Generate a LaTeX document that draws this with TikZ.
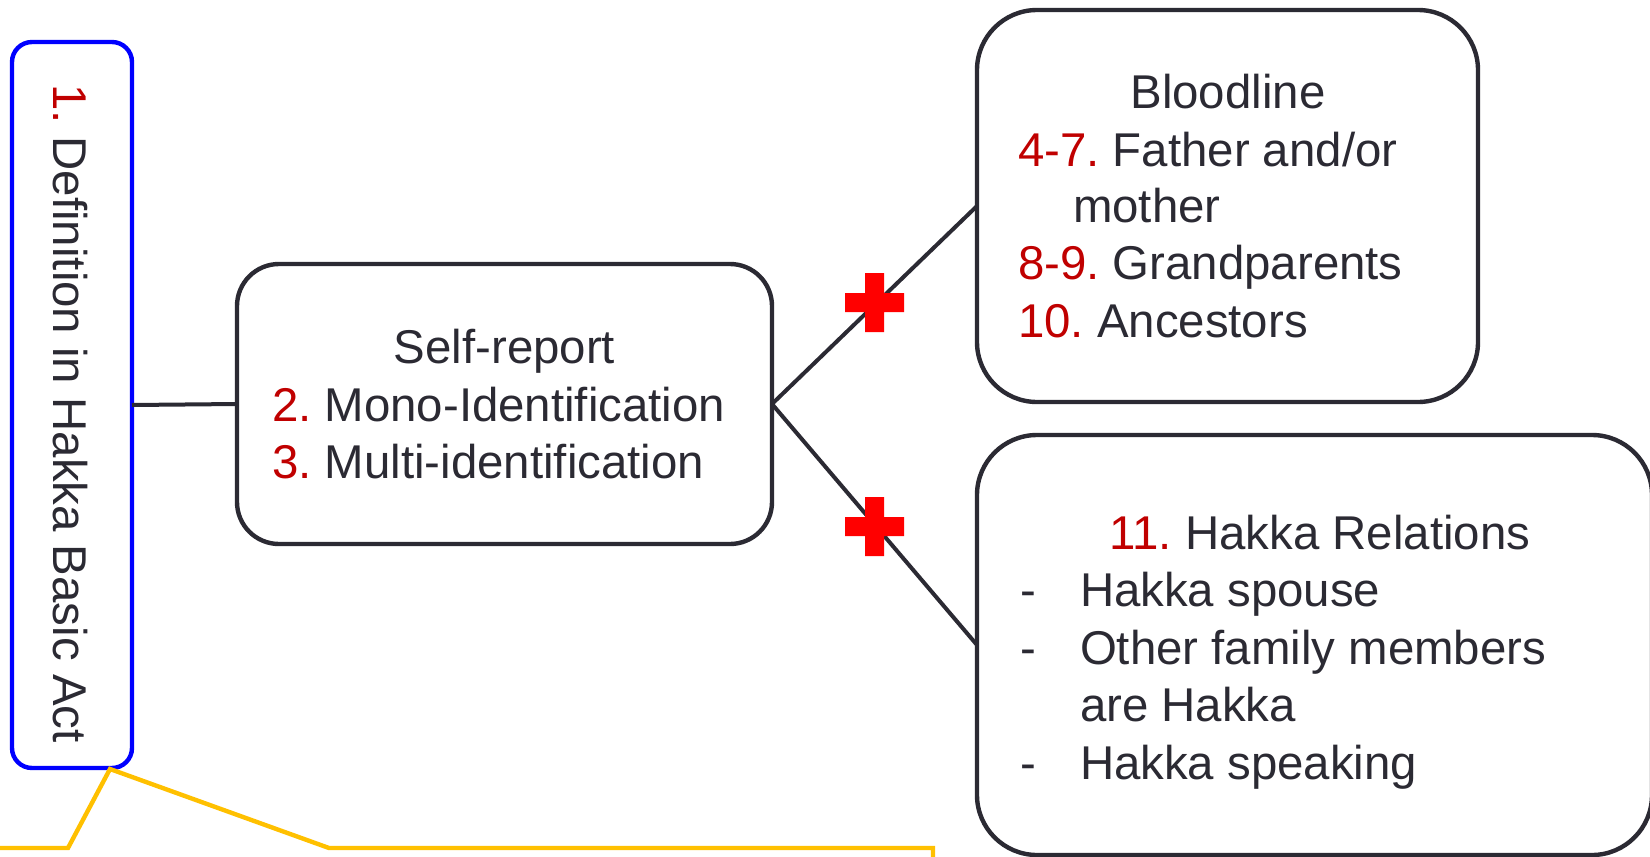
\documentclass[tikz,border=0pt]{standalone}
\usepackage{fontspec}
\setmainfont{Liberation Sans}
\definecolor{ink}{HTML}{2B2A33}
\definecolor{numred}{HTML}{C00000}
\definecolor{plusred}{HTML}{FF0000}
\definecolor{boxblue}{HTML}{0000FF}
\definecolor{lineyellow}{HTML}{FFC000}
\frenchspacing
\begin{document}
\begin{tikzpicture}[x=0.5pt,y=-0.5pt,
  txt/.style={anchor=base west, inner sep=0pt, outer sep=0pt, font=\fontsize{23.7}{28}\selectfont, text=ink},
  ctxt/.style={txt, anchor=base},
  rbox/.style={draw=ink, fill=white, line width=2.2pt, rounded corners=30pt, inner sep=0pt, outer sep=0pt},
  conn/.style={draw=ink, line width=2pt},
  plusmark/.style={fill=plusred},
  yline/.style={draw=lineyellow, line width=2.2pt, line join=miter}
]
\useasboundingbox (0,0) rectangle (1650,857);
\clip (0,0) rectangle (1650,857);

% boxes
\node[draw=boxblue, line width=2.2pt, rounded corners=10pt, minimum width=60pt, minimum height=363pt, inner sep=0pt, outer sep=0pt] (def) at (72,405) {};
\node[rbox, rounded corners=21pt, minimum width=267.5pt, minimum height=140pt] (self) at (504.5,404) {};
\node[rbox, minimum width=250.5pt, minimum height=196pt] (blood) at (1227.5,206) {};
\node[rbox, minimum width=337.5pt, minimum height=210pt] (rel) at (1314.5,645) {};

% connectors
\draw[conn] (def.east) -- (self.west);
\draw[conn] (self.east) -- (blood.west);
\draw[conn] (self.east) -- (rel.west);

% plus signs
\fill[plusmark] (865,273) rectangle (884,332) (845,293) rectangle (904,312);
\fill[plusmark] (865,497) rectangle (884,556) (845,517) rectangle (904,536);

% yellow line
\coordinate (ypeak) at (110,769);
\draw[yline] (-5,848) -- (68,848) -- (ypeak) -- (329,848) -- (933,848) -- (933,862);

% texts
\node[txt, rotate=-90] (deftext) at (54,84) {\textcolor{numred}{1.} Definition in Hakka Basic Act};

\node[ctxt] (selft) at (504.5,363) {Self-report};
\node[txt] (self2) at (272,421) {\textcolor{numred}{2.} Mono-Identification};
\node[txt] (self3) at (272,478) {\textcolor{numred}{3.} Multi-identification};

\node[ctxt] (bloodt) at (1228,108.5) {Bloodline};
\node[txt] (b1) at (1018,166) {\textcolor{numred}{4-7.} Father and/or};
\node[txt] (b1b) at (1073,222.5) {mother};
\node[txt] (b2) at (1018,279.5) {\textcolor{numred}{8-9.} Grandparents};
\node[txt] (b3) at (1018,337) {\textcolor{numred}{10.} Ancestors};

\node[ctxt] (relt) at (1320,549) {\textcolor{numred}{11.} Hakka Relations};
\node[txt] (d1) at (1020,606) {-};
\node[txt] (r1) at (1080,606) {Hakka spouse};
\node[txt] (d2) at (1020,664) {-};
\node[txt] (r2) at (1080,664) {Other family members};
\node[txt] (r2b) at (1080,721) {are Hakka};
\node[txt] (d3) at (1020,779) {-};
\node[txt] (r3) at (1080,779) {Hakka speaking};
\end{tikzpicture}
\end{document}
